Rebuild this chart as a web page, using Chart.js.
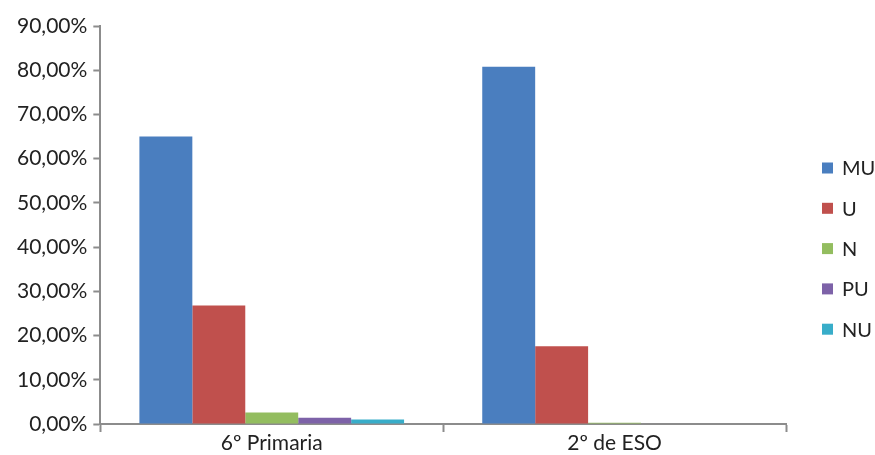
<!DOCTYPE html>
<html>
<head>
<meta charset="utf-8">
<script src="https://cdn.jsdelivr.net/npm/chart.js@4/dist/chart.umd.min.js"></script>
<style>
    html, body { margin: 0; padding: 0; background: #fff; }
    #wrap { width: 875px; height: 455px; position: relative; }
</style>
</head>
<body>
<div id="wrap"><canvas id="chart"></canvas></div>
<script>
// Data
const categories = ['6º Primaria', '2º de ESO'];
const seriesNames = ['MU', 'U', 'N', 'PU', 'NU'];
const muValues = [65.0, 80.8];
const uValues = [26.8, 17.6];
const nValues = [2.6, 0.3];
const puValues = [1.4, 0.0];
const nuValues = [1.0, 0.0];
const seriesColors = ['#4a7ebf', '#c0504d', '#93bd5f', '#7d62a8', '#38adc9'];

const axisGray = '#8c8c8c';
const textColor = '#222';
const fontFamily = 'Lato, "Open Sans", sans-serif';

const allValues = [muValues, uValues, nValues, puValues, nuValues];

// Legend drawn on the right, Excel style (small squares, wide spacing)
const sideLegend = {
    id: 'sideLegend',
    afterDraw(chart) {
        const ctx = chart.ctx;
        const boxX = 822, textX = 842, firstY = 168, stepY = 40.3, box = 11;
        ctx.save();
        ctx.font = '20px ' + fontFamily;
        ctx.textBaseline = 'middle';
        ctx.textAlign = 'left';
        chart.data.datasets.forEach((ds, i) => {
            const y = firstY + i * stepY;
            ctx.fillStyle = ds.backgroundColor;
            ctx.fillRect(boxX, y - box / 2, box, box);
            ctx.fillStyle = textColor;
            ctx.fillText(ds.label, textX, y + 1);
        });
        ctx.restore();
    }
};

const chart = new Chart(document.getElementById('chart'), {
    type: 'bar',
    data: {
        labels: categories,
        datasets: seriesNames.map((name, i) => ({
            label: name,
            data: allValues[i],
            backgroundColor: seriesColors[i],
            borderWidth: 0,
            barPercentage: 1.0,
            categoryPercentage: 0.772
        }))
    },
    options: {
        responsive: true,
        maintainAspectRatio: false,
        animation: false,
        layout: {
            padding: { top: 26, left: 11, right: 89, bottom: 0 }
        },
        scales: {
            x: {
                offset: true,
                grid: {
                    offset: true,
                    drawOnChartArea: false,
                    tickLength: 8,
                    tickWidth: 2,
                    color: axisGray
                },
                border: { color: axisGray, width: 2 },
                ticks: {
                    color: textColor,
                    padding: 1,
                    font: { family: fontFamily, size: 21, lineHeight: 1.0 }
                }
            },
            y: {
                min: 0,
                max: 90,
                grid: {
                    drawOnChartArea: false,
                    tickLength: 7,
                    tickWidth: 2,
                    color: axisGray
                },
                border: { color: axisGray, width: 2 },
                ticks: {
                    stepSize: 10,
                    color: textColor,
                    padding: 6,
                    font: { family: fontFamily, size: 21 },
                    callback: function(value) {
                        return value.toFixed(2).replace('.', ',') + '%';
                    }
                }
            }
        },
        plugins: {
            legend: { display: false },
            tooltip: { enabled: false }
        }
    },
    plugins: [sideLegend]
});
</script>
</body>
</html>
